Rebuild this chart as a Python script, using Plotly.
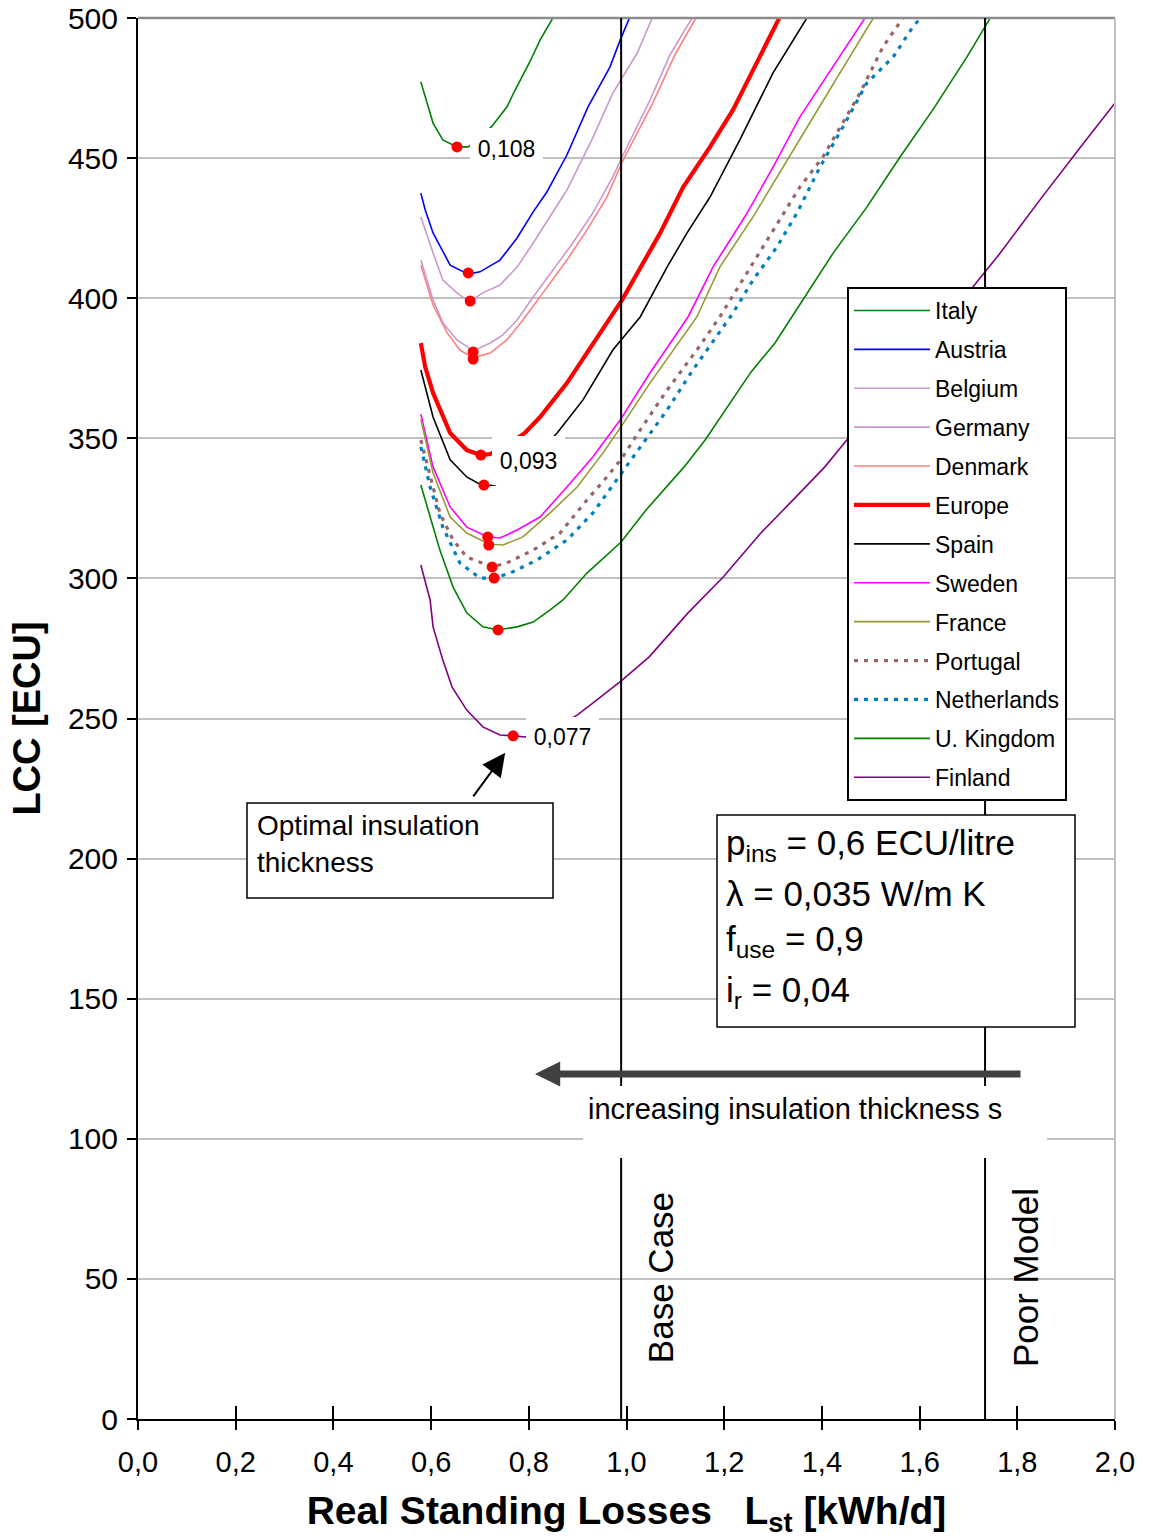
import plotly.graph_objects as go

FONT = "Arial, Liberation Sans, sans-serif"

# ---------------- data ----------------
x_italy = [0.579, 0.604, 0.624, 0.653, 0.676, 0.700, 0.725, 0.755, 0.772, 0.802, 0.823, 0.847, 0.858]
y_italy = [477.2, 462.5, 456.5, 454.0, 454.0, 457.0, 461.5, 468.2, 474.3, 484.3, 492.1, 499.3, 504.0]

x_austria = [0.579, 0.588, 0.604, 0.639, 0.676, 0.700, 0.741, 0.776, 0.809, 0.837, 0.878, 0.921, 0.966, 0.987, 1.013]
y_austria = [437.5, 431.5, 423.3, 411.8, 408.6, 409.4, 413.6, 421.5, 430.8, 437.9, 451.1, 468.2, 482.5, 492.1, 502.9]

x_belgium = [0.579, 0.592, 0.604, 0.624, 0.653, 0.678, 0.706, 0.741, 0.776, 0.809, 0.843, 0.878, 0.929, 0.972, 1.022, 1.062]
y_belgium = [429.0, 421.9, 416.2, 406.5, 401.9, 398.7, 401.9, 404.7, 411.1, 419.7, 429.0, 438.6, 456.5, 473.2, 487.5, 503.9]

x_germany = [0.579, 0.592, 0.604, 0.624, 0.653, 0.686, 0.721, 0.747, 0.776, 0.809, 0.850, 0.890, 0.931, 0.972, 0.991, 1.048, 1.089, 1.134]
y_germany = [413.6, 406.5, 399.4, 391.2, 385.1, 381.2, 384.0, 386.9, 392.2, 400.4, 410.1, 419.7, 430.4, 443.3, 450.4, 470.7, 486.8, 500.0]

x_denmark = [0.579, 0.604, 0.633, 0.659, 0.686, 0.721, 0.755, 0.788, 0.829, 0.878, 0.919, 0.960, 0.991, 1.054, 1.099, 1.142]
y_denmark = [411.8, 397.6, 387.6, 381.5, 378.7, 380.4, 385.1, 392.2, 401.9, 413.6, 424.3, 436.1, 448.6, 469.7, 486.8, 500.0]

x_europe = [0.579, 0.588, 0.604, 0.639, 0.673, 0.702, 0.721, 0.755, 0.792, 0.823, 0.878, 0.946, 0.991, 1.069, 1.116, 1.171, 1.218, 1.259, 1.324]
y_europe = [384.0, 375.4, 366.2, 351.9, 345.8, 344.0, 344.4, 347.5, 351.9, 357.6, 369.7, 387.6, 399.4, 423.3, 439.7, 454.0, 467.2, 481.4, 503.9]

x_spain = [0.579, 0.588, 0.604, 0.639, 0.673, 0.706, 0.731, 0.790, 0.858, 0.911, 0.972, 1.028, 1.083, 1.124, 1.171, 1.232, 1.300, 1.382]
y_spain = [374.4, 368.3, 357.6, 342.3, 336.2, 333.0, 333.3, 339.5, 351.9, 363.7, 381.5, 393.3, 411.1, 423.3, 436.1, 456.5, 480.4, 503.6]

x_sweden = [0.579, 0.588, 0.604, 0.639, 0.673, 0.716, 0.741, 0.776, 0.823, 0.878, 0.931, 0.987, 1.048, 1.126, 1.177, 1.247, 1.300, 1.355, 1.423, 1.503]
y_sweden = [358.6, 351.9, 339.8, 325.5, 318.3, 314.8, 314.4, 317.3, 321.9, 332.6, 343.3, 356.5, 373.3, 393.3, 411.1, 430.4, 446.8, 464.7, 482.5, 503.9]

x_france = [0.579, 0.604, 0.639, 0.673, 0.718, 0.747, 0.788, 0.843, 0.899, 0.952, 0.991, 1.048, 1.144, 1.191, 1.259, 1.314, 1.370, 1.437, 1.519]
y_france = [356.8, 337.6, 321.9, 316.2, 312.3, 311.9, 314.8, 323.3, 332.6, 344.8, 354.7, 369.7, 393.3, 411.1, 429.0, 444.7, 461.1, 480.4, 503.9]

x_portugal = [0.579, 0.598, 0.618, 0.645, 0.673, 0.725, 0.755, 0.809, 0.864, 0.919, 0.960, 0.991, 1.028, 1.083, 1.144, 1.191, 1.247, 1.300, 1.355, 1.402, 1.437, 1.478, 1.525, 1.580]
y_portugal = [349.4, 336.2, 323.3, 313.7, 307.6, 304.1, 305.5, 310.1, 316.2, 328.0, 336.2, 343.0, 353.0, 367.2, 381.5, 393.3, 409.0, 424.3, 439.7, 450.4, 461.1, 473.2, 489.7, 503.6]

x_netherlands = [0.579, 0.598, 0.624, 0.659, 0.700, 0.729, 0.762, 0.817, 0.878, 0.931, 0.987, 1.028, 1.083, 1.136, 1.218, 1.259, 1.308, 1.349, 1.396, 1.443, 1.492, 1.546, 1.586, 1.611]
y_netherlands = [346.9, 332.6, 318.3, 305.5, 300.1, 300.1, 301.9, 306.6, 313.7, 323.3, 336.9, 346.9, 360.1, 374.4, 394.7, 406.5, 418.3, 430.4, 446.8, 461.1, 476.8, 486.1, 496.8, 501.8]

x_uk = [0.579, 0.598, 0.618, 0.645, 0.673, 0.706, 0.737, 0.776, 0.809, 0.843, 0.870, 0.919, 0.989, 1.040, 1.118, 1.161, 1.212, 1.255, 1.304, 1.370, 1.423, 1.492, 1.560, 1.627, 1.697, 1.758]
y_uk = [333.3, 321.9, 310.1, 296.9, 287.7, 282.7, 281.6, 282.7, 284.4, 288.7, 292.3, 301.9, 313.0, 324.4, 339.8, 349.4, 362.6, 373.7, 384.0, 401.9, 416.1, 432.5, 450.4, 467.2, 486.1, 503.9]

x_finland = [0.579, 0.598, 0.604, 0.624, 0.643, 0.673, 0.706, 0.741, 0.770, 0.792, 0.850, 0.899, 0.931, 0.966, 0.991, 1.046, 1.126, 1.198, 1.275, 1.347, 1.406, 1.451, 1.530, 1.620, 1.709, 1.765, 1.846, 1.928, 2.000]
y_finland = [304.8, 292.3, 282.7, 270.9, 261.2, 253.0, 247.0, 244.1, 243.8, 243.4, 246.5, 251.2, 255.5, 260.2, 263.7, 271.9, 287.7, 300.5, 316.2, 329.1, 339.8, 349.4, 366.0, 385.0, 404.0, 416.1, 435.0, 453.6, 469.7]

countries = ["Italy", "Austria", "Belgium", "Germany", "Denmark", "Europe", "Spain",
             "Sweden", "France", "Portugal", "Netherlands", "U. Kingdom", "Finland"]

# optimal points (red dots)
opt_x = [0.653, 0.676, 0.680, 0.686, 0.686, 0.702, 0.708, 0.716, 0.718, 0.725, 0.729, 0.737, 0.768]
opt_y = [454.0, 409.0, 399.0, 380.8, 378.3, 344.0, 333.3, 314.8, 311.9, 304.1, 300.1, 281.6, 243.8]

# labelled optimal insulation thickness values (m)
opt_labels = {"Italy": "0,108", "Europe": "0,093", "Finland": "0,077"}

base_case_x = 0.989
poor_model_x = 1.734

x_ticks = [0.0, 0.2, 0.4, 0.6, 0.8, 1.0, 1.2, 1.4, 1.6, 1.8, 2.0]
y_ticks = [0, 50, 100, 150, 200, 250, 300, 350, 400, 450, 500]

# ---------------- styling ----------------
series = [
    (x_italy, y_italy, "#008000", 1.6, "solid"),
    (x_austria, y_austria, "#0000FF", 1.6, "solid"),
    (x_belgium, y_belgium, "#CC99CC", 1.6, "solid"),
    (x_germany, y_germany, "#CC99CC", 1.6, "solid"),
    (x_denmark, y_denmark, "#FF8080", 1.6, "solid"),
    (x_europe, y_europe, "#FF0000", 4.2, "solid"),
    (x_spain, y_spain, "#000000", 1.6, "solid"),
    (x_sweden, y_sweden, "#FF00FF", 1.6, "solid"),
    (x_france, y_france, "#999933", 1.6, "solid"),
    (x_portugal, y_portugal, "#996666", 3.2, "4px,6px"),
    (x_netherlands, y_netherlands, "#0080C0", 3.2, "4px,6px"),
    (x_uk, y_uk, "#008000", 1.6, "solid"),
    (x_finland, y_finland, "#800080", 1.6, "solid"),
]

W, H = 1149, 1538
L, R, T, B = 138, 1115, 18, 1419


def px(xp):
    return (xp - L) / (R - L)


def py(yp):
    return (B - yp) / (B - T)


fig = go.Figure()
for name, (xs, ys, col, w, dash) in zip(countries, series):
    fig.add_trace(go.Scatter(
        x=xs, y=ys, mode="lines", name=name, legendgroup=name,
        line=dict(color=col, width=w, dash=dash),
        hoverinfo="skip",
    ))

fig.add_trace(go.Scatter(
    x=opt_x, y=opt_y, mode="markers", xaxis="x2", showlegend=False,
    marker=dict(color="#FF0000", size=11, line=dict(width=0)),
    hoverinfo="skip",
))

shapes = []
# plot-area border (top, right)
shapes.append(dict(type="line", xref="paper", yref="paper", x0=0, x1=1, y0=1, y1=1,
                   line=dict(color="#8C8C8C", width=2.5), layer="above"))
shapes.append(dict(type="line", xref="paper", yref="paper", x0=1, x1=1, y0=0, y1=1,
                   line=dict(color="#C0C0C0", width=2), layer="above"))
# reference vertical lines
for xv in (base_case_x, poor_model_x):
    shapes.append(dict(type="line", xref="x", yref="paper", x0=xv, x1=xv, y0=0, y1=1,
                       line=dict(color="black", width=2), layer="above"))
# white backing of the "increasing insulation thickness" text
shapes.append(dict(type="rect", xref="paper", yref="paper",
                   x0=px(583), x1=px(1047), y0=py(1158), y1=py(1086),
                   fillcolor="white", line=dict(width=0), layer="above"))
# parameter box
shapes.append(dict(type="rect", xref="paper", yref="paper",
                   x0=px(717), x1=px(1075), y0=py(1027), y1=py(815),
                   fillcolor="white", line=dict(color="black", width=1.5), layer="above"))
# "optimal insulation thickness" box
shapes.append(dict(type="rect", xref="paper", yref="paper",
                   x0=px(247), x1=px(553), y0=py(898), y1=py(803),
                   fillcolor="white", line=dict(color="black", width=1.5), layer="above"))

ann = []
# value labels at optimum points
label_geom = {"Italy": (13, -2, 40), "Europe": (11, -5, 47), "Finland": (13, -1, 38)}
for name, txt in opt_labels.items():
    i = countries.index(name)
    xs_, ys_, h_ = label_geom[name]
    ann.append(dict(x=opt_x[i], y=opt_y[i], xref="x", yref="y", text=txt, showarrow=False,
                    xanchor="left", yanchor="middle", xshift=xs_, yshift=ys_,
                    width=71, height=h_, bgcolor="white", borderpad=1, borderwidth=0,
                    font=dict(family=FONT, size=23, color="black")))

# arrow pointing at Finland optimum
fi = countries.index("Finland")
ann.append(dict(x=opt_x[fi], y=opt_y[fi], xref="x", yref="y", text="", showarrow=True,
                xshift=-8, yshift=-17, ax=-33, ay=45, axref="pixel", ayref="pixel",
                arrowhead=2, arrowsize=2.3, arrowwidth=2, arrowcolor="black"))

# optimal box text
for txt, yy in (("Optimal insulation", 825), ("thickness", 862)):
    ann.append(dict(x=px(255), y=py(yy), xref="paper", yref="paper", xanchor="left", yanchor="middle",
                    text=txt, showarrow=False,
                    font=dict(family=FONT, size=28, color="black")))

# parameter box text
param_lines = [
    ("p<sub>ins</sub> = 0,6 ECU/litre", 845),
    ("\u03bb = 0,035 W/m K", 893),
    ("f<sub>use</sub> = 0,9", 941),
    ("i<sub>r</sub> = 0,04", 992),
]
for txt, yy in param_lines:
    ann.append(dict(x=px(724), y=py(yy), xref="paper", yref="paper", xanchor="left", yanchor="middle",
                    text=txt, showarrow=False, font=dict(family=FONT, size=35, color="black")))

# big arrow "increasing insulation thickness"
ann.append(dict(x=px(535), y=py(1074), xref="paper", yref="paper", text="", showarrow=True,
                ax=1022 - 535, ay=0, axref="pixel", ayref="pixel",
                arrowhead=2, arrowsize=0.72, arrowwidth=7, arrowcolor="#404040"))
ann.append(dict(x=px(795), y=py(1109), xref="paper", yref="paper", text="increasing insulation thickness s",
                showarrow=False, xanchor="center", yanchor="middle",
                font=dict(family=FONT, size=29, color="black")))

# rotated labels of the reference lines
ann.append(dict(x=base_case_x, y=py(1278), xref="x", yref="paper", text="Base Case", textangle=-90,
                showarrow=False, xanchor="center", yanchor="middle", xshift=39,
                font=dict(family=FONT, size=35, color="black")))
ann.append(dict(x=poor_model_x, y=py(1278), xref="x", yref="paper", text="Poor Model", textangle=-90,
                showarrow=False, xanchor="center", yanchor="middle", xshift=40,
                font=dict(family=FONT, size=35, color="black")))

fig.update_layout(
    width=W, height=H,
    margin=dict(l=L, r=W - R, t=T, b=H - B, autoexpand=False),
    paper_bgcolor="white", plot_bgcolor="white",
    separators=",.",
    font=dict(family=FONT, color="black"),
    showlegend=True,
    legend=dict(x=px(847), y=py(287), xanchor="left", yanchor="top",
                bgcolor="white", bordercolor="black", borderwidth=2,
                font=dict(family=FONT, size=23, color="black"),
                tracegroupgap=6, itemwidth=76, traceorder="grouped"),
    xaxis=dict(range=[0, 2], tickvals=x_ticks, tickformat=".1f", showgrid=False, zeroline=False,
               showline=True, linecolor="black", linewidth=2,
               ticks="outside", ticklen=9, tickwidth=1.5, tickcolor="black",
               tickfont=dict(family=FONT, size=29, color="black"), ticklabelstandoff=7,
               title=dict(text="Real Standing Losses\u00a0\u00a0\u00a0L<sub>st</sub> [kWh/d]",
                          font=dict(family=FONT, size=39, color="black", weight="bold"), standoff=24),
               automargin=False),
    xaxis2=dict(matches="x", overlaying="x", anchor="y", side="bottom", range=[0, 2],
                tickvals=x_ticks, showticklabels=False, showgrid=False, zeroline=False,
                showline=False, ticks="inside", ticklen=13, tickwidth=1.5, tickcolor="black"),
    yaxis=dict(range=[0, 500], tickvals=y_ticks, showgrid=True, gridcolor="#C0C0C0", gridwidth=1.5,
               zeroline=False, showline=True, linecolor="black", linewidth=2,
               ticks="outside", ticklen=9, tickwidth=1.5, tickcolor="black",
               tickfont=dict(family=FONT, size=30, color="black"), ticklabelstandoff=3,
               title=dict(text="LCC [ECU]", font=dict(family=FONT, size=38, color="black", weight="bold"),
                          standoff=16),
               automargin=False),
    shapes=shapes,
    annotations=ann,
)

fig.write_html("out.html")
